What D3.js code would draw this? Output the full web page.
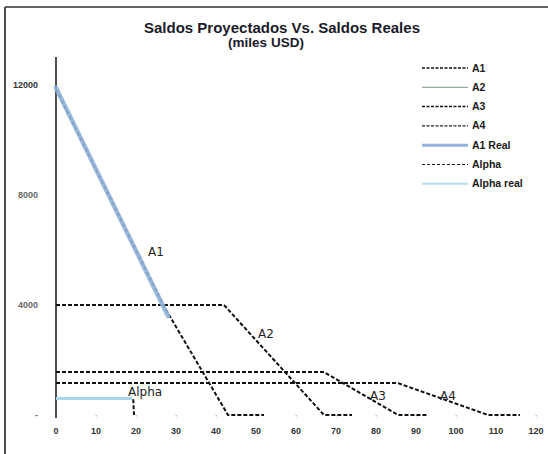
<!DOCTYPE html>
<html><head><meta charset="utf-8">
<script src="https://cdn.jsdelivr.net/npm/d3@7"></script>
<style>body{margin:0;background:#fff}svg{display:block}</style>
</head><body>
<script>
// Data
const xTicks = [0,10,20,30,40,50,60,70,80,90,100,110,120];
const yTicks = [0,4000,8000,12000];
const yTickLabels = ["-","4000","8000","12000"];
const a1 = [[0,11850],[27,3950],[43,0],[52,0]];
const a2 = [[0,4000],[42,4000],[67,0],[74,0]];
const a3 = [[0,1560],[67,1560],[85.5,0],[93,0]];
const a4 = [[0,1160],[85.5,1160],[108,0],[116,0]];
const a1Real = [[0,11900],[28,3600]];
const alpha = [[0,600],[19.3,600],[19.5,0]];
const alphaReal = [[0,600],[19,600]];
const legendNames = ["A1","A2","A3","A4","A1 Real","Alpha","Alpha real"];

const W=548,H=454;
const svg=d3.select("body").append("svg").attr("width",W).attr("height",H);
svg.append("rect").attr("width",W).attr("height",H).attr("fill","#fff");
// frame
svg.append("line").attr("x1",5).attr("x2",5).attr("y1",7).attr("y2",H).attr("stroke","#222").attr("stroke-width",1.6);
svg.append("line").attr("x1",5).attr("x2",W).attr("y1",7).attr("y2",7).attr("stroke","#333").attr("stroke-width",1.4);

const x=d3.scaleLinear().domain([0,120]).range([56,536]);
const y=d3.scaleLinear().domain([0,4000]).range([415,305]);

// title
svg.append("text").attr("x",282).attr("y",33).attr("text-anchor","middle")
  .attr("font-family","Liberation Sans, Arial, sans-serif").attr("font-weight","bold").attr("font-size",15).attr("fill","#1a1a2a")
  .text("Saldos Proyectados Vs. Saldos Reales");
svg.append("text").attr("x",266).attr("y",47).attr("text-anchor","middle")
  .attr("font-family","Liberation Sans, Arial, sans-serif").attr("font-weight","bold").attr("font-size",13.5).attr("fill","#1a1a2a")
  .text("(miles USD)");

// y axis line
svg.append("line").attr("x1",x(0)).attr("x2",x(0)).attr("y1",57).attr("y2",418).attr("stroke","#222").attr("stroke-width",1.6);

// y tick labels
svg.selectAll(".yl").data(yTicks).enter().append("text")
  .attr("x",38).attr("y",d=>y(d)+3).attr("text-anchor","end")
  .attr("font-family","Liberation Sans, Arial, sans-serif").attr("font-weight","bold").attr("font-size",9)
  .attr("fill",(d,i)=>i===3?"#333":"#6a6a6a")
  .text((d,i)=>yTickLabels[i]);

// x tick labels
svg.selectAll(".xl").data(xTicks).enter().append("text")
  .attr("x",d=>x(d)).attr("y",434).attr("text-anchor","middle")
  .attr("font-family","Liberation Sans, Arial, sans-serif").attr("font-weight","bold").attr("font-size",9).attr("fill","#333")
  .text(d=>d);
// faint tick dots
svg.selectAll(".xt").data(xTicks.slice(1)).enter().append("rect")
  .attr("x",d=>x(d)-0.5).attr("y",415).attr("width",1.5).attr("height",1.5).attr("fill","#bbb");

const line=d3.line().x(d=>x(d[0])).y(d=>y(d[1]));
function dashed(data){
  svg.append("path").attr("d",line(data)).attr("fill","none").attr("stroke","#111")
    .attr("stroke-width",2).attr("stroke-dasharray","4,2");
}
dashed(alpha);
svg.append("path").attr("d",line(alphaReal)).attr("fill","none").attr("stroke","#a9d6ea").attr("stroke-width",3);
dashed(a1); dashed(a2); dashed(a3); dashed(a4);
svg.append("path").attr("d",line(a1Real)).attr("fill","none").attr("stroke","#92b3dc").attr("stroke-width",4.5).attr("stroke-linecap","round").attr("opacity",0.9);

// inline labels
const lab=[["A1",x(23),256],["A2",x(50.5),338],["A3",x(78.5),400],["A4",x(96),400],["Alpha",x(18),396]];
svg.selectAll(".il").data(lab).enter().append("text")
  .attr("x",d=>d[1]).attr("y",d=>d[2]).attr("text-anchor","start")
  .attr("font-family","DejaVu Sans, sans-serif").attr("font-size",12).attr("fill","#222")
  .text(d=>d[0]);

// legend
const legStyles=[
  {c:"#111",w:1.5,d:"3,1.5"},
  {c:"#7a9a80",w:1,d:null},
  {c:"#111",w:1.5,d:"3,1.5"},
  {c:"#222",w:1.2,d:"3,1.5"},
  {c:"#92b3dc",w:3,d:null},
  {c:"#111",w:1.2,d:"3,2"},
  {c:"#b5dcec",w:2,d:null}
];
const lg=svg.append("g");
legendNames.forEach((n,i)=>{
  const yy=68+i*19.3;
  const s=legStyles[i];
  const l=lg.append("line").attr("x1",422).attr("x2",468).attr("y1",yy).attr("y2",yy)
    .attr("stroke",s.c).attr("stroke-width",s.w);
  if(s.d) l.attr("stroke-dasharray",s.d);
  lg.append("text").attr("x",472).attr("y",yy+3.5)
    .attr("font-family","Liberation Sans, Arial, sans-serif").attr("font-weight","bold").attr("font-size",10.5).attr("fill","#1a1a1a")
    .text(n);
});
</script>
</body></html>
